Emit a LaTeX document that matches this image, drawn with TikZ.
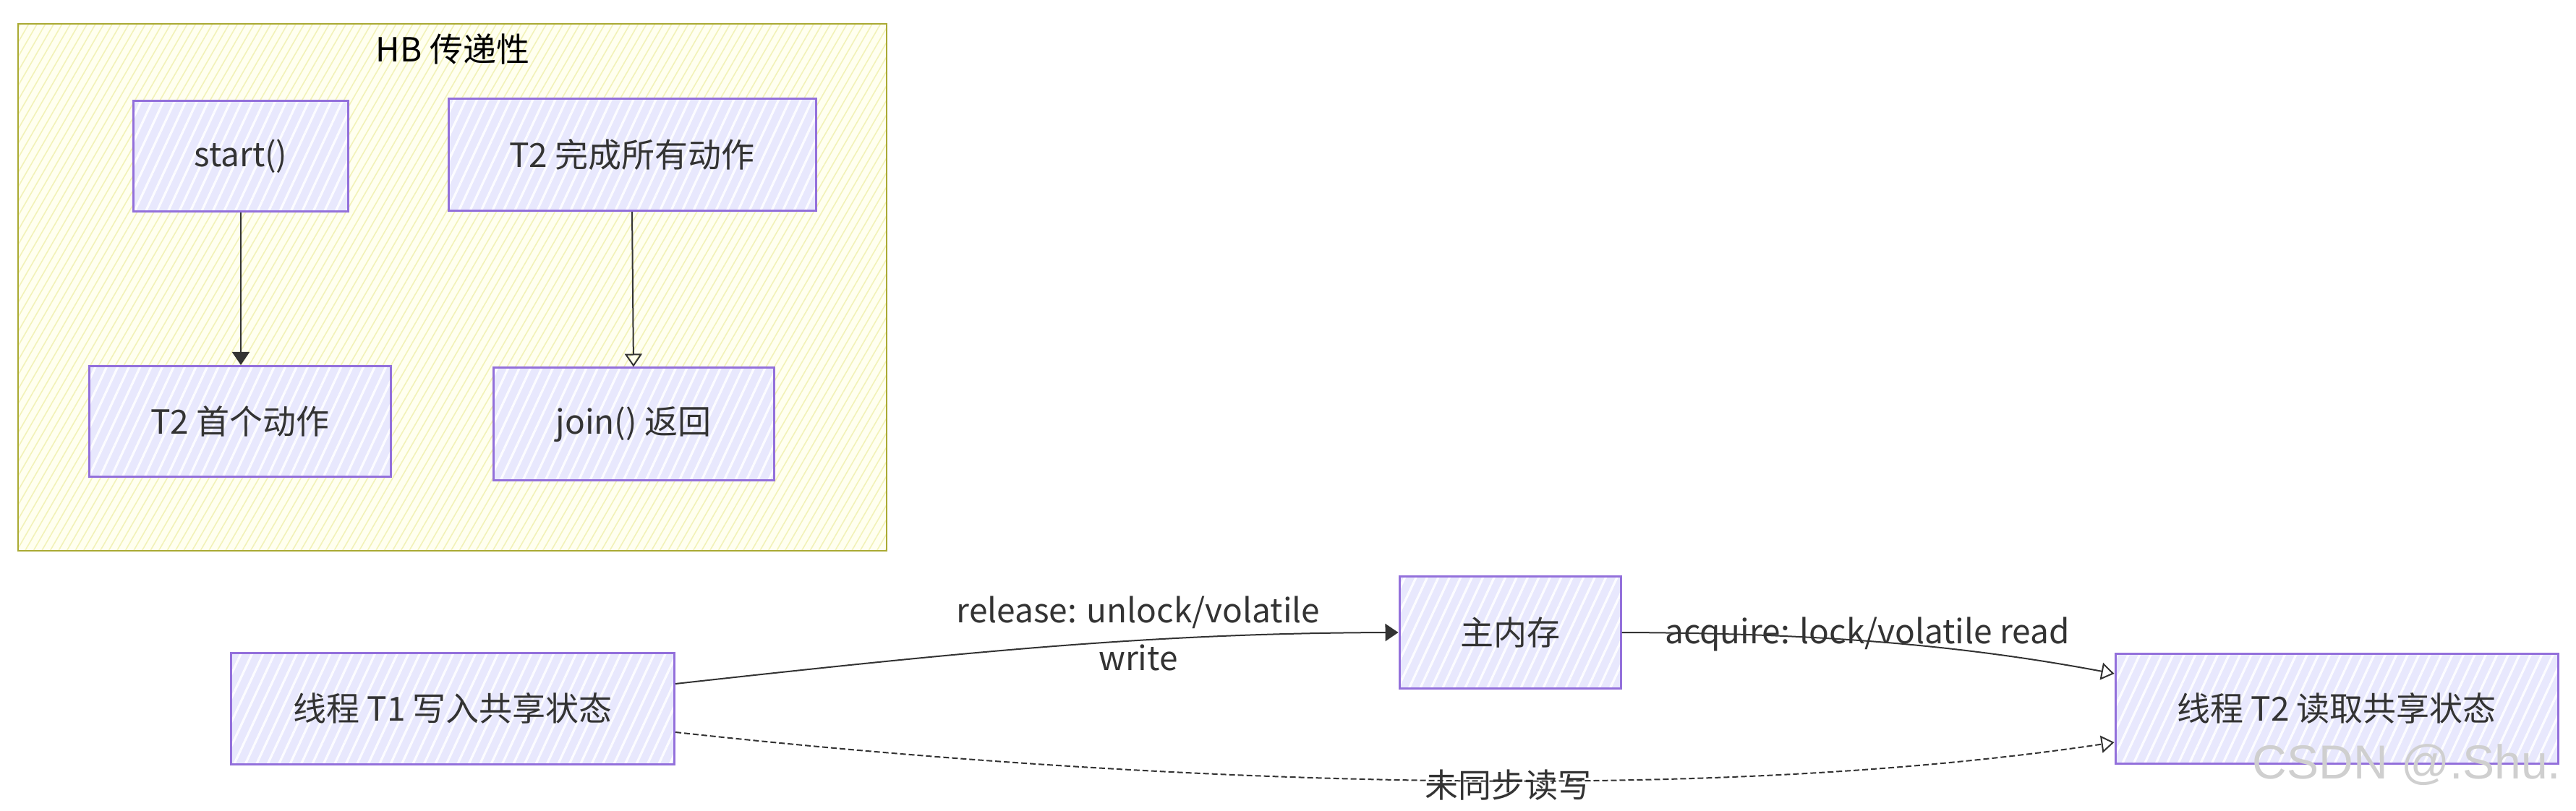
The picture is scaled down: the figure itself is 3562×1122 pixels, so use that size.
\documentclass[tikz,border=0pt]{standalone}
\usepackage{fontspec}
\setmainfont{Noto Sans CJK SC}
\newfontfamily\wmfont{Liberation Sans}
\usetikzlibrary{arrows.meta,patterns.meta}
\definecolor{nodefill}{HTML}{E8E8FD}
\definecolor{nodeborder}{HTML}{9370DB}
\definecolor{grpfill}{HTML}{FFFFF0}
\definecolor{grphatch}{HTML}{F2F2B8}
\definecolor{grpborder}{HTML}{AAAA33}
\definecolor{txt}{HTML}{333333}
\definecolor{wm}{HTML}{CFCFCF}
\begin{document}
\begin{tikzpicture}[x=0.5pt,y=-0.5pt,
  box/.style={draw=nodeborder, line width=1.5pt, inner sep=0pt,
    preaction={fill=nodefill},
    pattern={Lines[angle=65,distance=7pt,line width=1.6pt]}, pattern color=white!85!nodefill,
    text=txt, font=\fontsize{23}{28}\selectfont},
  grp/.style={draw=grpborder, line width=1pt, inner sep=0pt,
    preaction={fill=grpfill},
    pattern={Lines[angle=60,distance=5pt,line width=0.8pt]}, pattern color=grphatch},
  lbl/.style={text=txt, font=\fontsize{23}{33}\selectfont, inner sep=0pt, align=center},
  conn/.style={draw=txt, line width=1pt},
  solidtip/.style={-{Triangle[length=9pt,width=12pt]}},
  opentip/.style={-{Triangle[open,length=9pt,width=12pt]}}
]
\useasboundingbox (0,0) rectangle (3562,1122);
\fill[white] (0,0) rectangle (3562,1122);

% group
\node[grp, minimum width=600.5pt, minimum height=364.5pt] (grp) at (625.5,397.5) {};
\node[lbl, text=black] (title) at (626,68) {HB 传递性};

% nodes in group
\node[box, minimum width=148.5pt, minimum height=76.5pt] (start) at (333,216) {start()};
\node[box, minimum width=254pt, minimum height=77.5pt] (done) at (874,214) {T2 完成所有动作};
\node[box, minimum width=208.5pt, minimum height=76.5pt] (first) at (332,583) {T2 首个动作};
\node[box, minimum width=194pt, minimum height=78pt] (join) at (876,587) {join() 返回};

% bottom nodes
\node[box, minimum width=306.5pt, minimum height=77pt] (t1) at (626,980) {线程 T1 写入共享状态};
\node[box, minimum width=153pt, minimum height=77.5pt] (mem) at (2088,875) {主内存};
\node[box, minimum width=306pt, minimum height=76pt] (t2r) at (3231,980) {线程 T2 读取共享状态};

% group edges
\draw[conn, solidtip] (start.south) -- (first.north -| start.south);
\draw[conn, opentip] (done.south) -- (join.north);

% bottom edges
\draw[conn, solidtip] ([yshift=17pt]t1.east) .. controls (1350,900) and (1600,876) .. (mem.west);
\draw[conn, opentip] (mem.east) .. controls (2500,876) and (2700,890) .. ([yshift=24pt]t2r.west);
\draw[conn, opentip, dash pattern=on 4pt off 2pt] ([yshift=-16.5pt]t1.east) .. controls (1500,1075) and (2300,1120) .. ([yshift=-23.5pt]t2r.west);

% edge labels
\node[lbl] (rel) at (1574,876) {release: unlock/volatile\\write};
\node[lbl] (acq) at (2582,877) {acquire: lock/volatile read};
\node[lbl] (uns) at (2085,1086) {未同步读写};

% watermark
\node[text=wm, font=\fontsize{33}{33}\selectfont\wmfont, inner sep=0pt] (wmark) at (3328,1058) {CSDN @.Shu.};
\end{tikzpicture}
\end{document}
